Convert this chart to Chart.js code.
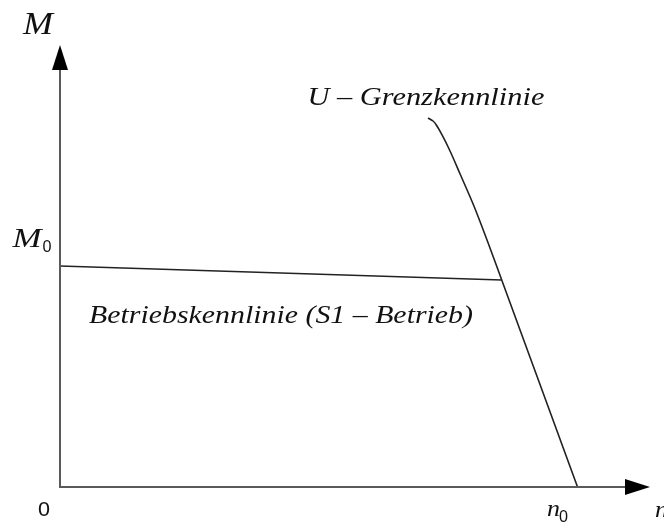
<!DOCTYPE html>
<html>
  <head>
    <script src="https://cdn.jsdelivr.net/npm/chart.js"></script>
    <style>
      body { margin: 0; background: #fff; }
      #wrap { width: 664px; height: 522px; }
    </style>
  </head>
  <body>
    <div id="wrap"><canvas id="kennlinien" width="664" height="522"></canvas></div>

    <script>
      // normalised units: n / n0 and M / M0
      const nBetrieb = [0, 0.8535];
      const mBetrieb = [1.0, 0.9367];

      const nGrenz = [1.0, 0.9268, 0.8535, 0.8251, 0.7990, 0.7739, 0.7527, 0.7382, 0.7295, 0.7208, 0.7111];
      const mGrenz = [0, 0.4683, 0.9367, 1.1176, 1.2760, 1.4118, 1.5249, 1.5928, 1.6290, 1.6561, 1.6697];

      const nMax = 1.14;
      const mMax = 2.0;

      const SERIF = '"Liberation Serif", "Times New Roman", serif';
      const SANS = '"Liberation Sans", Arial, sans-serif';

      const toPoints = (xs, ys) => xs.map((x, i) => ({ x: x, y: ys[i] }));

      // draws text squeezed/stretched to a given width
      function fitText(ctx, text, x, y, width, font, align) {
        ctx.save();
        ctx.font = font;
        const w = ctx.measureText(text).width;
        const s = width / w;
        ctx.translate(x, y);
        ctx.scale(s, 1);
        ctx.textBaseline = 'middle';
        ctx.textAlign = align || 'left';
        ctx.fillText(text, 0, 0);
        ctx.restore();
      }

      const axesPlugin = {
        id: 'axes',
        afterDraw(chart) {
          const ctx = chart.ctx;
          const xs = chart.scales.x, ys = chart.scales.y;
          const ox = xs.getPixelForValue(0), oy = ys.getPixelForValue(0);
          const top = chart.chartArea.top, right = chart.chartArea.right;

          ctx.save();
          ctx.strokeStyle = '#5a5a5a';
          ctx.lineWidth = 2;
          ctx.beginPath();
          ctx.moveTo(ox, top + 25);
          ctx.lineTo(ox, oy);
          ctx.lineTo(right - 25, oy);
          ctx.stroke();

          ctx.fillStyle = '#000';
          ctx.beginPath();
          ctx.moveTo(ox, top);
          ctx.lineTo(ox - 8, top + 25);
          ctx.lineTo(ox + 8, top + 25);
          ctx.closePath();
          ctx.fill();
          ctx.beginPath();
          ctx.moveTo(right, oy);
          ctx.lineTo(right - 25, oy - 8);
          ctx.lineTo(right - 25, oy + 8);
          ctx.closePath();
          ctx.fill();

          ctx.fillStyle = '#111';

          // axis names
          fitText(ctx, 'M', ox - 22, top - 19, 30, 'italic 32px ' + SERIF, 'center');
          fitText(ctx, 'n', right + 5, oy + 24, 13, 'italic 23px ' + SERIF, 'left');
          fitText(ctx, '0', ox - 16, oy + 23, 12, '21px ' + SANS, 'center');

          // M0 on the M axis
          const m0 = ys.getPixelForValue(1.0);
          fitText(ctx, 'M', ox - 33, m0 - 26, 29, 'italic 27px ' + SERIF, 'center');
          fitText(ctx, '0', ox - 13, m0 - 18, 9, '16px ' + SANS, 'center');

          // n0 on the n axis
          const n0 = xs.getPixelForValue(1.0);
          fitText(ctx, 'n', n0 - 24, oy + 23, 13, 'italic 23px ' + SERIF, 'center');
          fitText(ctx, '0', n0 - 14, oy + 31, 9, '16px ' + SANS, 'center');

          // curve captions
          const cap = 'italic 25px ' + SERIF;
          fitText(ctx, 'U \u2013 Grenzkennlinie', xs.getPixelForValue(0.478), ys.getPixelForValue(1.758), 237, cap, 'left');
          fitText(ctx, 'Betriebskennlinie (S1 \u2013 Betrieb)', xs.getPixelForValue(0.056), ys.getPixelForValue(0.773), 384, cap, 'left');
          ctx.restore();
        }
      };

      function draw() {
        new Chart(document.getElementById('kennlinien').getContext('2d'), {
          type: 'scatter',
          data: {
            datasets: [{
              label: 'Betriebskennlinie',
              data: toPoints(nBetrieb, mBetrieb),
              showLine: true,
              borderColor: '#222',
              borderWidth: 1.6,
              pointRadius: 0
            }, {
              label: 'U-Grenzkennlinie',
              data: toPoints(nGrenz, mGrenz),
              showLine: true,
              borderColor: '#222',
              borderWidth: 1.6,
              pointRadius: 0,
              indexAxis: 'y',
              cubicInterpolationMode: 'monotone'
            }]
          },
          options: {
            responsive: false,
            animation: false,
            layout: { padding: { left: 60, right: 14, top: 45, bottom: 35 } },
            plugins: { legend: { display: false }, tooltip: { enabled: false } },
            scales: {
              x: { type: 'linear', min: 0, max: nMax, display: false },
              y: { type: 'linear', min: 0, max: mMax, display: false }
            }
          },
          plugins: [axesPlugin]
        });
      }

      Promise.all([
        document.fonts.load('italic 20px "Liberation Serif"'),
        document.fonts.load('20px "Liberation Sans"')
      ]).then(draw, draw);
    </script>
  </body>
</html>
